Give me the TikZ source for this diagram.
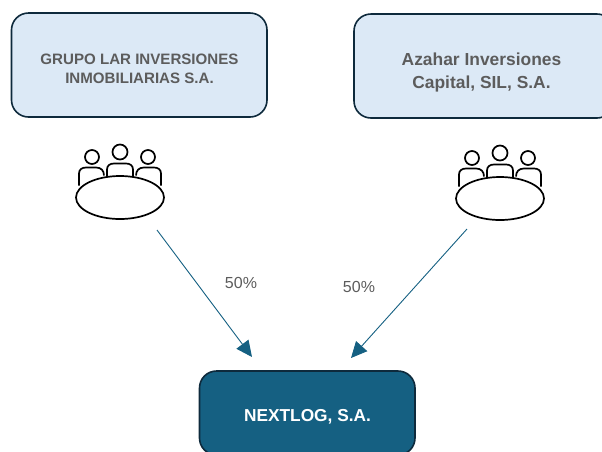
\documentclass[tikz,border=0pt]{standalone}
\usepackage{fontspec}
\setmainfont{Liberation Sans}
\usetikzlibrary{arrows.meta}
\definecolor{lightbox}{HTML}{DCE9F6}
\definecolor{darkbox}{HTML}{156082}
\definecolor{edgedark}{HTML}{0E2A3C}
\definecolor{greytext}{HTML}{5C5C5C}
\tikzset{
  x=1pt,y=-1pt,
  lightnode/.style={draw=edgedark,line width=1.6pt,fill=lightbox,rounded corners=17pt,inner sep=0pt},
  darknode/.style={draw=edgedark,line width=1.6pt,fill=darkbox,rounded corners=17pt,inner sep=0pt},
  iconline/.style={draw=black,line width=1.7pt,line join=round},
  flow/.style={draw=darkbox,line width=0.9pt,-{Triangle[length=16pt,width=15pt]}},
  pct/.style={text=greytext,font=\fontsize{16}{18}\selectfont,inner sep=0pt},
  lbl/.style={align=center,inner sep=0pt}
}
\newcommand{\meeting}[2]{%
  \begin{scope}[shift={(#1,#2)}]
    \draw[iconline] (-28,-40.5) circle (7);
    \draw[iconline] (0,-45.5) circle (7.5);
    \draw[iconline] (28,-40.5) circle (7);
    \draw[iconline] (-41,-12) -- (-41,-24) .. controls (-41,-28) and (-38,-30) .. (-34,-30) -- (-24,-30) .. controls (-19,-30) and (-16,-27) .. (-16,-22);
    \draw[iconline] (-13,-21) -- (-13,-28) .. controls (-13,-32) and (-10,-34) .. (-6,-34) -- (6,-34) .. controls (10,-34) and (13,-32) .. (13,-28) -- (13,-21);
    \draw[iconline] (16,-22) .. controls (16,-27) and (19,-30) .. (24,-30) -- (34,-30) .. controls (38,-30) and (41,-28) .. (41,-24) -- (41,-12);
    \draw[iconline,fill=white] (0,0) ellipse (44 and 21.5);
  \end{scope}}
\begin{document}
\begin{tikzpicture}
\useasboundingbox (0,0) rectangle (602,451);
\clip (0,0) rectangle (602,451);
\node[lightnode,minimum width=255.5pt,minimum height=104pt] (grupo) at (139.25,65) {};
\node[lbl,text=greytext,font=\fontsize{15.1}{19.5}\selectfont\bfseries] (grupot) at (139.5,69) {GRUPO LAR INVERSIONES\\INMOBILIARIAS S.A.};
\node[lightnode,minimum width=260pt,minimum height=104pt] (azahar) at (484,66) {};
\node[lbl,text=greytext,font=\fontsize{17.4}{23}\selectfont\bfseries] (azahart) at (481.5,72.5) {Azahar Inversiones\\Capital, SIL, S.A.};
\node[darknode,minimum width=215.5pt,minimum height=84pt] (nextlog) at (307.25,413) {};
\node[lbl,text=white,font=\fontsize{17.3}{20}\selectfont\bfseries] (nextlogt) at (307.5,417) {NEXTLOG, S.A.};
\meeting{120}{197.5}
\meeting{500}{198.5}
\coordinate (a1) at (157,230);
\coordinate (a2) at (252,357);
\coordinate (b1) at (467,229);
\coordinate (b2) at (351,358);
\draw[flow] (a1) -- (a2);
\draw[flow] (b1) -- (b2);
\node[pct] (p1) at (241,283) {50\%};
\node[pct] (p2) at (359,287) {50\%};
\end{tikzpicture}
\end{document}
